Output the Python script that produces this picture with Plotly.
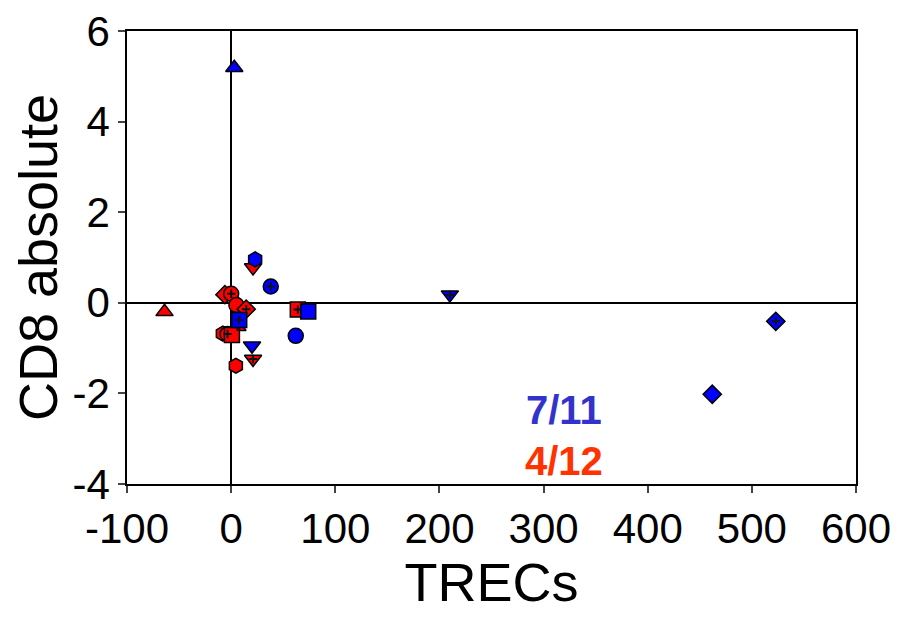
import plotly.graph_objects as go

# Blue group (7/11)
blue_x = [3, 23, 38, 74, 7.7, 62, 20, 210, 523, 462]
blue_y = [5.19, 0.96, 0.36, -0.19, -0.38, -0.73, -0.95, 0.18, -0.41, -2.02]
blue_sym = ["triangle-up", "hexagon", "circle", "square", "square", "circle",
            "triangle-down", "triangle-down", "diamond", "diamond"]
blue_plus = [False, False, True, False, True, False, False, True, True, False]

# Red group (4/12)
red_x = [-64, 21, -6, 0, 5, 14.4, 64, 6, -8, -3.5, 0.7, 21, 4.5]
red_y = [-0.2, 0.78, 0.18, 0.2, -0.05, -0.14, -0.15, -0.53, -0.68, -0.69, -0.71, -1.24, -1.39]
red_sym = ["triangle-up", "triangle-down", "diamond", "circle", "circle", "diamond",
           "square", "triangle-up", "hexagon", "circle", "square", "triangle-down", "hexagon"]
red_plus = [False, False, False, True, False, True, True, True, False, True, False, True, False]

x_ticks = [-100, 0, 100, 200, 300, 400, 500, 600]
x_labels = ["-100", "0", "100", "200", "300", "400", "500", "600"]
y_ticks = [-4, -2, 0, 2, 4, 6]
y_labels = ["-4", "-2", "0", "2", "4", "6"]

fig = go.Figure()

for xs, ys, syms, plus, col in [(red_x, red_y, red_sym, red_plus, "#ff0000"),
                                 (blue_x, blue_y, blue_sym, blue_plus, "#0000ff")]:
    sizes = [14 if s == "diamond" else 15 for s in syms]
    fig.add_trace(go.Scatter(
        x=xs, y=ys, mode="markers",
        marker=dict(symbol=syms, size=sizes, color=col, opacity=1,
                    line=dict(color="black", width=1.5)),
        showlegend=False, hoverinfo="skip"))
    px = [x for x, p in zip(xs, plus) if p]
    py = [y for y, p in zip(ys, plus) if p]
    fig.add_trace(go.Scatter(
        x=px, y=py, mode="markers",
        marker=dict(symbol="cross-thin", size=6, opacity=1,
                    line=dict(color="#111111", width=2)),
        showlegend=False, hoverinfo="skip"))

fig.add_annotation(x=0.6, y=0.163, xref="paper", yref="paper", text="<b>7/11</b>",
                   xanchor="center", yanchor="middle",
                   showarrow=False, font=dict(size=40, color="#3333cc", family="Liberation Sans"))
fig.add_annotation(x=0.6, y=0.05, xref="paper", yref="paper", text="<b>4/12</b>",
                   xanchor="center", yanchor="middle",
                   showarrow=False, font=dict(size=40, color="#ff3300", family="Liberation Sans"))

fig.update_layout(
    width=899, height=626,
    margin=dict(l=119, r=51, t=23, b=150, autoexpand=False),
    plot_bgcolor="white", paper_bgcolor="white",
    font=dict(family="Liberation Sans", color="black"),
    xaxis=dict(range=[-100.05, 600.05], tickvals=x_ticks, ticktext=x_labels, ticks="outside",
               ticklen=7, tickwidth=1.5, showline=True, linecolor="black", linewidth=1.5,
               mirror=True, showgrid=False, zeroline=True, zerolinecolor="black",
               zerolinewidth=1.5, tickfont=dict(size=42), ticklabeloverflow="allow",
               automargin=False,
               title=dict(text="TRECs", font=dict(size=54), standoff=12)),
    yaxis=dict(range=[-4.001, 6.001], tickvals=y_ticks, ticktext=y_labels, ticks="outside",
               ticklen=7, tickwidth=1.5, showline=True, linecolor="black", linewidth=1.5,
               mirror=True, showgrid=False, zeroline=True, zerolinecolor="black",
               zerolinewidth=1.5, tickfont=dict(size=42), ticklabeloverflow="allow",
               automargin=False,
               title=dict(text="CD8 absolute", font=dict(size=54), standoff=8)),
)

fig.write_html("out.html")
